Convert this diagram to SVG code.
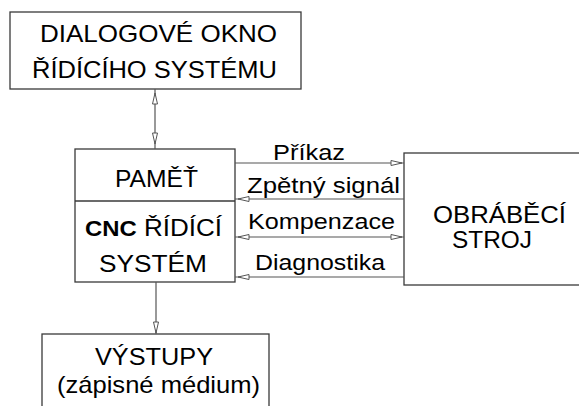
<svg xmlns="http://www.w3.org/2000/svg" xmlns:xlink="http://www.w3.org/1999/xlink" width="579" height="406" viewBox="0 0 579 406">
<style>
.box{fill:#fff;stroke:#3a3a3a;stroke-width:1.3}
.ln{stroke:#555;stroke-width:1.2;fill:none}
.ah{fill:#fff;stroke:#555;stroke-width:1}
text{font-family:"Liberation Sans",Arial,sans-serif;fill:#000;font-size:24px}
.lbl{font-size:22px}
</style>
<defs>
<path id="ah" d="M0,0 L-11,-2.5 L-11,2.5 Z"/>
</defs>
<rect width="579" height="406" fill="#fff"/>
<g id="dialog">
<rect class="box" x="10" y="12" width="291" height="77"/>
<text x="40" y="42" textLength="237" lengthAdjust="spacingAndGlyphs">DIALOGOVÉ OKNO</text>
<text x="32" y="78" textLength="245" lengthAdjust="spacingAndGlyphs">ŘÍDÍCÍHO SYSTÉMU</text>
</g>
<g id="cnc">
<rect class="box" x="75" y="149" width="160" height="133"/>
<line class="box" x1="75" y1="201" x2="235" y2="201"/>
<text x="115" y="187" textLength="83" lengthAdjust="spacingAndGlyphs">PAMĚŤ</text>
<text x="85" y="236" textLength="137" lengthAdjust="spacingAndGlyphs"><tspan font-weight="bold" font-size="22">CNC</tspan> ŘÍDÍCÍ</text>
<text x="99" y="272" textLength="108" lengthAdjust="spacingAndGlyphs">SYSTÉM</text>
</g>
<g id="stroj">
<rect class="box" x="404" y="153" width="180" height="132"/>
<text x="433" y="223" textLength="133" lengthAdjust="spacingAndGlyphs">OBRÁBĚCÍ</text>
<text x="452" y="248" textLength="80" lengthAdjust="spacingAndGlyphs">STROJ</text>
</g>
<g id="vystupy">
<rect class="box" x="42" y="334" width="227" height="80"/>
<text x="95" y="365" textLength="118" lengthAdjust="spacingAndGlyphs">VÝSTUPY</text>
<text x="57" y="393" textLength="203" lengthAdjust="spacingAndGlyphs">(zápisné médium)</text>
</g>
<g id="connectors">
<line class="ln" x1="155" y1="89" x2="155" y2="149"/>
<use href="#ah" class="ah" transform="translate(155,93) rotate(-90)"/>
<use href="#ah" class="ah" transform="translate(155,144) rotate(90)"/>
<line class="ln" x1="156" y1="282" x2="156" y2="334"/>
<use href="#ah" class="ah" transform="translate(156,333) rotate(90)"/>
<line class="ln" x1="235" y1="163" x2="404" y2="163"/>
<use href="#ah" class="ah" transform="translate(402,163)"/>
<line class="ln" x1="235" y1="199" x2="404" y2="199"/>
<use href="#ah" class="ah" transform="translate(238,199) rotate(180)"/>
<line class="ln" x1="235" y1="237" x2="404" y2="237"/>
<use href="#ah" class="ah" transform="translate(238,237) rotate(180)"/>
<use href="#ah" class="ah" transform="translate(402,237)"/>
<line class="ln" x1="235" y1="277" x2="404" y2="277"/>
<use href="#ah" class="ah" transform="translate(238,277) rotate(180)"/>
<text class="lbl" x="273" y="160" textLength="72" lengthAdjust="spacingAndGlyphs">Příkaz</text>
<text class="lbl" x="247" y="193" textLength="153" lengthAdjust="spacingAndGlyphs">Zpětný signál</text>
<text class="lbl" x="248" y="229" textLength="147" lengthAdjust="spacingAndGlyphs">Kompenzace</text>
<text class="lbl" x="255" y="270" textLength="130" lengthAdjust="spacingAndGlyphs">Diagnostika</text>
</g>
</svg>
